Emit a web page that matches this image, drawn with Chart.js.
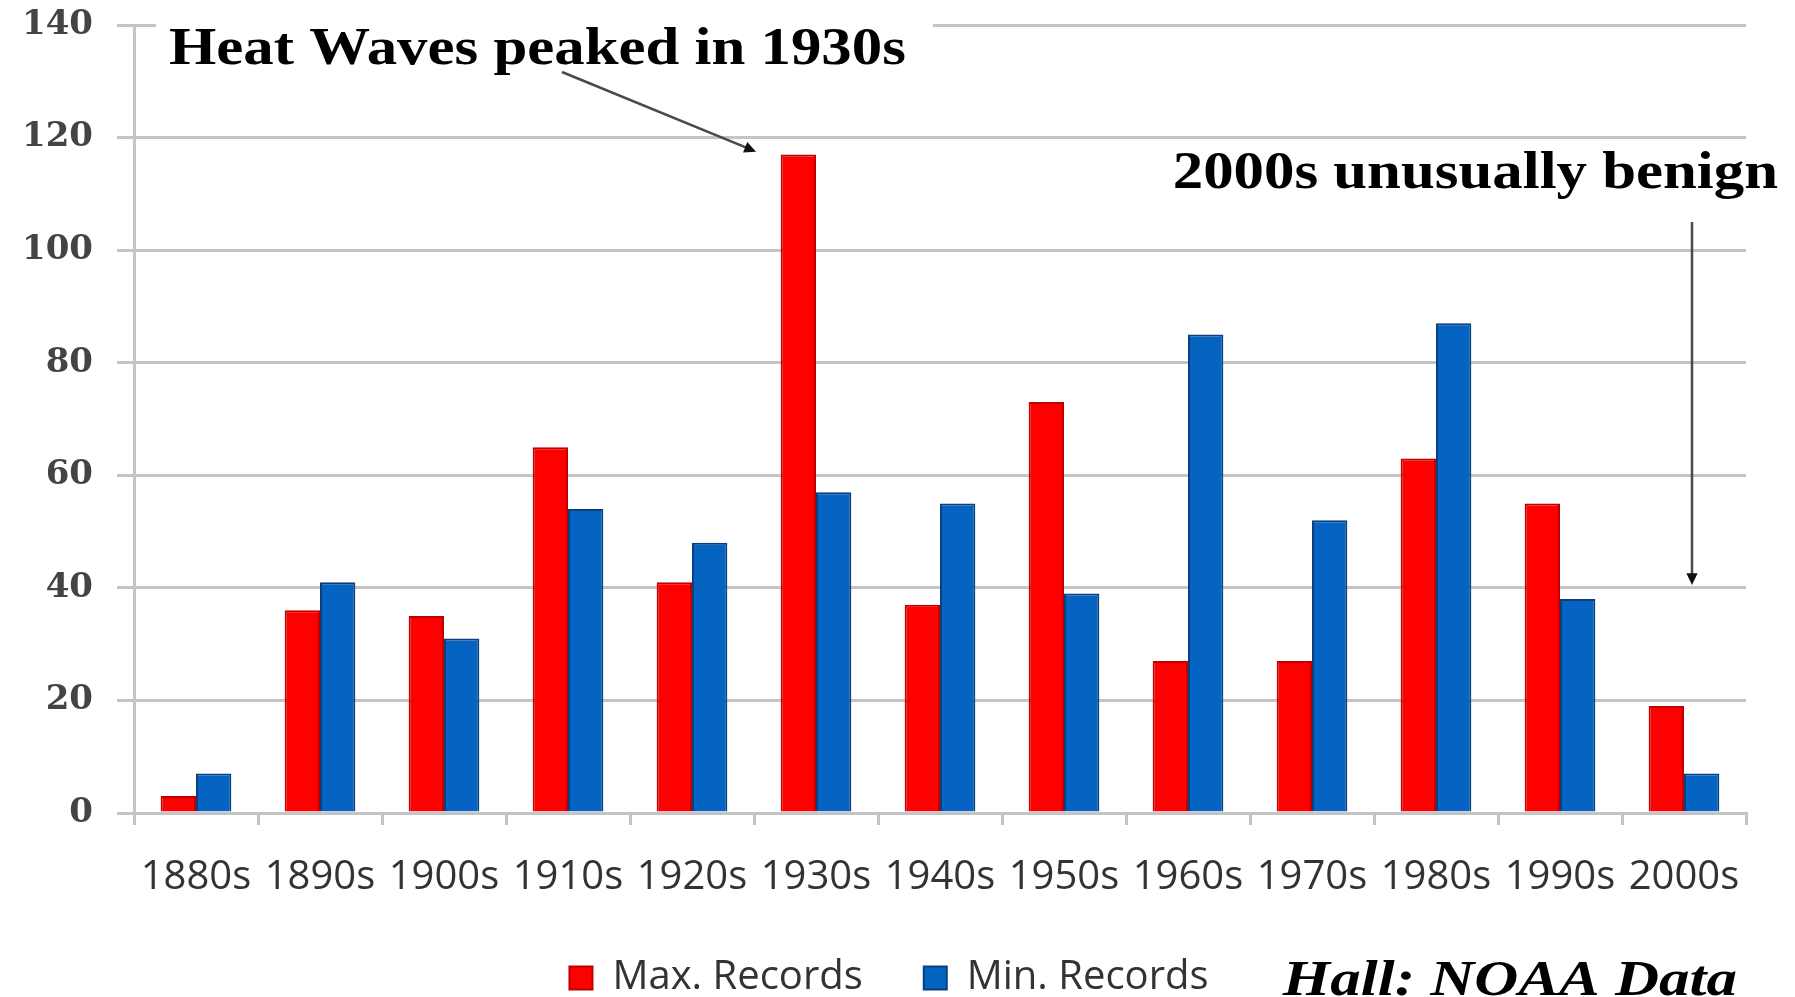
<!DOCTYPE html>
<html>
<head>
<meta charset="utf-8">
<title>Heat Waves peaked in 1930s</title>
<script src="https://cdn.jsdelivr.net/npm/chart.js@4.4.1/dist/chart.umd.min.js"></script>
<style>
  html, body { margin: 0; padding: 0; background: #fff; }
  #wrap { width: 1795px; height: 997px; position: relative; }
</style>
</head>
<body>
<div id="wrap"><canvas id="chart" width="1795" height="997"></canvas></div>
<script>
// decades on the x axis
var decades = ['1880s', '1890s', '1900s', '1910s', '1920s', '1930s', '1940s',
               '1950s', '1960s', '1970s', '1980s', '1990s', '2000s'];
// state record highs / lows per decade
var maxRecords = [3, 36, 35, 65, 41, 117, 37, 73, 27, 27, 63, 55, 19];
var minRecords = [7, 41, 31, 54, 48, 57, 55, 39, 85, 52, 87, 38, 7];
var yTicks = [0, 20, 40, 60, 80, 100, 120, 140];

var RED = '#ff0000', RED_EDGE = '#c00000';
var BLUE = '#0563c1', BLUE_EDGE = '#0a3f80';
var GRID = '#c4c4c4';

// draw text squeezed/stretched horizontally
function stretchText(ctx, text, x, y, font, sx, align) {
  ctx.save();
  ctx.font = font;
  var w = ctx.measureText(text).width * sx;
  var left = align === 'right' ? x - w : (align === 'center' ? x - w / 2 : x);
  ctx.translate(left, y);
  ctx.scale(sx, 1);
  ctx.textAlign = 'left';
  ctx.fillText(text, 0, 0);
  ctx.restore();
  return { left: left, width: w };
}

function arrow(ctx, x1, y1, x2, y2) {
  var a = Math.atan2(y2 - y1, x2 - x1), L = 13, W = 0.45;
  ctx.save();
  ctx.strokeStyle = '#4a4a4a';
  ctx.fillStyle = '#111';
  ctx.lineWidth = 2.5;
  ctx.beginPath();
  ctx.moveTo(x1, y1);
  ctx.lineTo(x2 - Math.cos(a) * L * 0.6, y2 - Math.sin(a) * L * 0.6);
  ctx.stroke();
  ctx.beginPath();
  ctx.moveTo(x2, y2);
  ctx.lineTo(x2 - L * Math.cos(a - W), y2 - L * Math.sin(a - W));
  ctx.lineTo(x2 - L * Math.cos(a + W), y2 - L * Math.sin(a + W));
  ctx.closePath();
  ctx.fill();
  ctx.restore();
}

// legend sits a bit right of centre in the original
var legendNudge = {
  id: 'legendNudge',
  afterLayout: function (chart) {
    if (chart.legend) {
      chart.legend.left += 16;
      chart.legend.right += 16;
    }
  }
};

// annotations: two headlines with arrows, and the source note
var notes = {
  id: 'notes',
  afterDraw: function (chart) {
    var ctx = chart.ctx, xs = chart.scales.x, ys = chart.scales.y;
    var area = chart.chartArea;
    var half = (xs.getPixelForValue(1) - xs.getPixelForValue(0)) / 2;
    ctx.save();
    ctx.fillStyle = '#000';
    ctx.textBaseline = 'alphabetic';

    // headline 1, white box over the top gridline
    var f1 = 'bold 52px "Liberation Serif", "Times New Roman", serif';
    ctx.font = f1;
    var w1 = ctx.measureText('Heat Waves peaked in 1930s').width * 1.17;
    ctx.fillStyle = '#fff';
    ctx.fillRect(area.left + 22, area.top - 6, w1 + 40, 60);
    ctx.fillStyle = '#000';
    stretchText(ctx, 'Heat Waves peaked in 1930s', area.left + 35, area.top + 39, f1, 1.17, 'left');
    arrow(ctx, area.left + 428, area.top + 47,
          xs.getPixelForValue(5) - half + 2, ys.getPixelForValue(117.5));

    // headline 2
    stretchText(ctx, '2000s unusually benign', area.right + 32, ys.getPixelForValue(105) - 34,
                f1, 1.17, 'right');
    var ax = xs.getPixelForValue(12) + 8;
    arrow(ctx, ax, ys.getPixelForValue(105), ax, ys.getPixelForValue(40.5));

    // source
    stretchText(ctx, 'Hall: NOAA Data', area.right - 9, chart.height - 2,
                'bold italic 50px "Liberation Serif", "Times New Roman", serif', 1.22, 'right');
    ctx.restore();
  }
};

new Chart(document.getElementById('chart').getContext('2d'), {
  type: 'bar',
  data: {
    labels: decades,
    datasets: [{
      label: 'Max. Records',
      data: maxRecords,
      backgroundColor: RED,
      borderColor: RED_EDGE,
      borderWidth: 2,
      borderSkipped: 'bottom'
    }, {
      label: 'Min. Records',
      data: minRecords,
      backgroundColor: BLUE,
      borderColor: BLUE_EDGE,
      borderWidth: 2,
      borderSkipped: 'bottom'
    }]
  },
  options: {
    responsive: false,
    animation: false,
    devicePixelRatio: 1,
    categoryPercentage: 0.57,
    barPercentage: 1.0,
    layout: { padding: { top: 25, right: 49, left: 0, bottom: -11 } },
    scales: {
      x: {
        grid: { drawOnChartArea: false, drawTicks: true, tickLength: 12, color: GRID, lineWidth: 3 },
        border: { display: true, color: GRID, width: 3 },
        ticks: {
          color: '#333', padding: 29, maxRotation: 0, autoSkip: false,
          font: { family: '"Open Sans", sans-serif', size: 40 }
        },
        afterFit: function (s) { s.height = 84; }
      },
      y: {
        min: 0, max: 140,
        afterBuildTicks: function (s) { s.ticks = yTicks.map(function (v) { return { value: v }; }); },
        grid: { color: GRID, lineWidth: 3, tickLength: 17 },
        border: { display: true, color: GRID, width: 3 },
        ticks: {
          color: '#444', padding: 24,
          font: { family: '"DejaVu Serif", serif', size: 34, weight: 'bold' }
        },
        afterFit: function (s) { s.width = 134; s.paddingTop = 0; s.paddingBottom = 0; }
      }
    },
    plugins: {
      legend: {
        position: 'bottom',
        align: 'center',
        labels: {
          boxWidth: 23, boxHeight: 23, padding: 61, color: '#333',
          font: { family: '"Open Sans", sans-serif', size: 40 }
        }
      },
      tooltip: { enabled: false },
      title: { display: false }
    }
  },
  plugins: [legendNudge, notes]
});
</script>
</body>
</html>
